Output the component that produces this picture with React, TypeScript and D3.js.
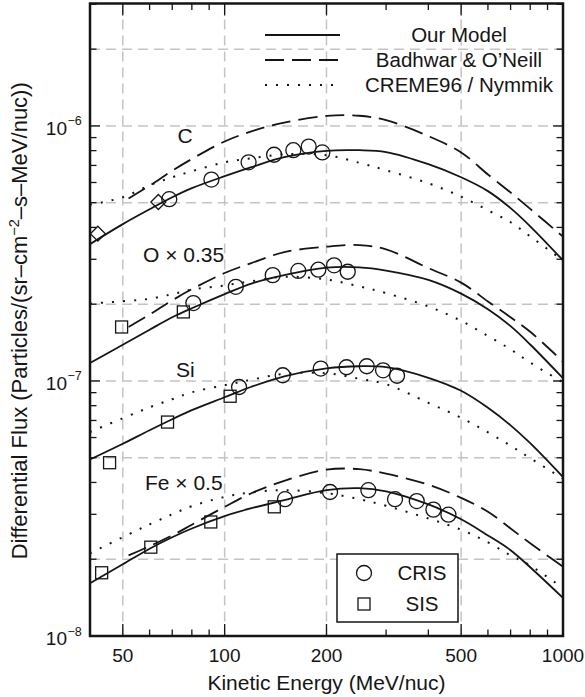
import React from "react";
import * as d3 from "d3";

// ---------- data ----------
const curveEnergy = [40, 50, 60, 70, 80, 100, 120, 150, 200, 250, 300, 400, 500, 600, 700, 800, 1000];
const badhwarEnergy = [52, 60, 70, 80, 100, 120, 150, 200, 250, 300, 400, 500, 600, 700, 800, 1000];

const cModel = [3.44e-7, 4.12e-7, 4.71e-7, 5.25e-7, 5.7e-7, 6.35e-7, 6.89e-7, 7.54e-7, 7.99e-7, 8.03e-7, 7.9e-7, 7.08e-7, 6.29e-7, 5.55e-7, 4.76e-7, 4.04e-7, 2.97e-7];
const cBadhwar = [5.19e-7, 5.83e-7, 6.67e-7, 7.42e-7, 8.69e-7, 9.52e-7, 1.031e-6, 1.094e-6, 1.096e-6, 1.053e-6, 9.12e-7, 7.87e-7, 6.45e-7, 5.48e-7, 4.73e-7, 3.68e-7];
const cCreme = [4.91e-7, 5.25e-7, 5.85e-7, 6.29e-7, 6.64e-7, 7.2e-7, 7.47e-7, 7.74e-7, 7.68e-7, 7.17e-7, 6.7e-7, 5.96e-7, 5.28e-7, 4.67e-7, 4.19e-7, 3.69e-7, 2.97e-7];

const oModel = [1.176e-7, 1.387e-7, 1.588e-7, 1.777e-7, 1.928e-7, 2.19e-7, 2.41e-7, 2.6e-7, 2.78e-7, 2.79e-7, 2.71e-7, 2.49e-7, 2.2e-7, 1.91e-7, 1.64e-7, 1.39e-7, 1.025e-7];
const oBadhwar = [1.628e-7, 1.82e-7, 2.07e-7, 2.29e-7, 2.65e-7, 2.9e-7, 3.2e-7, 3.36e-7, 3.41e-7, 3.28e-7, 2.77e-7, 2.43e-7, 2.05e-7, 1.777e-7, 1.56e-7, 1.19e-7];
const oCreme = [2.01e-7, 2.054e-7, 2.1e-7, 2.19e-7, 2.28e-7, 2.37e-7, 2.46e-7, 2.56e-7, 2.5e-7, 2.35e-7, 2.21e-7, 1.96e-7, 1.72e-7, 1.5e-7, 1.33e-7, 1.18e-7, 9.88e-8];

const siModel = [4.92e-8, 5.67e-8, 6.41e-8, 7.08e-8, 7.68e-8, 8.63e-8, 9.49e-8, 1.043e-7, 1.121e-7, 1.142e-7, 1.132e-7, 1.029e-7, 9.15e-8, 7.85e-8, 6.7e-8, 5.7e-8, 4.2e-8];
const siCreme = [6.31e-8, 7.14e-8, 7.88e-8, 8.48e-8, 9.03e-8, 9.62e-8, 1.011e-7, 1.067e-7, 1.072e-7, 1.02e-7, 9.71e-8, 8.21e-8, 7.17e-8, 6.29e-8, 5.57e-8, 4.98e-8, 4.14e-8];

const feModel = [1.61e-8, 1.91e-8, 2.2e-8, 2.44e-8, 2.64e-8, 2.95e-8, 3.17e-8, 3.41e-8, 3.73e-8, 3.8e-8, 3.69e-8, 3.28e-8, 2.87e-8, 2.48e-8, 2.17e-8, 1.86e-8, 1.41e-8];
const feBadhwar = [2.07e-8, 2.25e-8, 2.48e-8, 2.73e-8, 3.21e-8, 3.63e-8, 4.06e-8, 4.49e-8, 4.51e-8, 4.33e-8, 3.92e-8, 3.48e-8, 3.07e-8, 2.64e-8, 2.31e-8, 1.87e-8];
const feCreme = [2.11e-8, 2.44e-8, 2.74e-8, 3.0e-8, 3.23e-8, 3.51e-8, 3.66e-8, 3.73e-8, 3.63e-8, 3.44e-8, 3.24e-8, 2.89e-8, 2.61e-8, 2.33e-8, 2.07e-8, 1.89e-8, 1.54e-8];

// measured points
const cDiamondE = [42.2, 63.7];
const cDiamondF = [3.78e-7, 5.03e-7];
const cCrisE = [68.6, 91.4, 117.7, 140, 159.6, 177.2, 194.4];
const cCrisF = [5.16e-7, 6.16e-7, 7.2e-7, 7.71e-7, 8.03e-7, 8.3e-7, 7.87e-7];
const oSisE = [49.6, 75.5];
const oSisF = [1.628e-7, 1.865e-7];
const oCrisE = [80.8, 107.9, 138.7, 165.1, 189.2, 210.6, 231.1];
const oCrisF = [2.02e-7, 2.34e-7, 2.6e-7, 2.7e-7, 2.73e-7, 2.84e-7, 2.68e-7];
const siSisE = [45.7, 67.8, 103.8];
const siSisF = [4.78e-8, 6.9e-8, 8.71e-8];
const siCrisE = [110.3, 148.5, 192.3, 229.2, 263, 293.9, 323.2];
const siCrisF = [9.47e-8, 1.053e-7, 1.118e-7, 1.132e-7, 1.142e-7, 1.101e-7, 1.048e-7];
const feSisE = [43.3, 60.5, 91, 140.2];
const feSisF = [1.77e-8, 2.23e-8, 2.8e-8, 3.21e-8];
const feCrisE = [150.8, 204.9, 265.9, 318.8, 369.6, 414, 458.5];
const feCrisF = [3.44e-8, 3.67e-8, 3.73e-8, 3.44e-8, 3.38e-8, 3.13e-8, 2.99e-8];

const xTickLabels = [50, 100, 200, 500, 1000];
const yTickExponents = [-8, -7, -6];
const xGrid = [50, 100, 200, 500];
const yGrid = [2e-8, 5e-8, 1e-7, 2e-7, 5e-7, 1e-6, 2e-6];
const legendLines = ["Our Model", "Badhwar & O\u2019Neill", "CREME96 / Nymmik"];
const seriesLabels = ["C", "O \u00d7 0.35", "Si", "Fe \u00d7 0.5"];
const pointLegend = ["CRIS", "SIS"];

// ---------- layout ----------
const W = 585;
const H = 697;
const L = 90;
const R = 563;
const T = 3.5;
const B = 636;
const FONT = "'Liberation Sans', Arial, Helvetica, sans-serif";
const INK = "#151515";

const x = d3.scaleLog().domain([40, 1000]).range([L, R]);
const y = d3.scaleLog().domain([1e-8, 3.02e-6]).range([B, T]);

const line = d3
  .line<[number, number]>()
  .x((d) => x(d[0]))
  .y((d) => y(d[1]))
  .curve(d3.curveCatmullRom.alpha(0.5));

const zip = (e: number[], f: number[]) => e.map((v, i) => [v, f[i]] as [number, number]);

const DASH = "19,8";
const DOT = "2,9";

function Curve({ e, f, style }: { e: number[]; f: number[]; style: "solid" | "dash" | "dot" }) {
  return (
    <path
      d={line(zip(e, f)) || ""}
      fill="none"
      stroke={INK}
      strokeWidth={style === "dot" ? 2 : 1.8}
      strokeDasharray={style === "solid" ? undefined : style === "dash" ? DASH : DOT}
    />
  );
}

function Circles({ e, f }: { e: number[]; f: number[] }) {
  return (
    <g>
      {e.map((v, i) => (
        <circle key={i} cx={x(v)} cy={y(f[i])} r={7.5} fill="none" stroke={INK} strokeWidth={1.3} />
      ))}
    </g>
  );
}

function Squares({ e, f }: { e: number[]; f: number[] }) {
  const s = 12;
  return (
    <g>
      {e.map((v, i) => (
        <rect key={i} x={x(v) - s / 2} y={y(f[i]) - s / 2} width={s} height={s} fill="none" stroke={INK} strokeWidth={1.3} />
      ))}
    </g>
  );
}

function Diamonds({ e, f }: { e: number[]; f: number[] }) {
  const h = 7.5;
  return (
    <g>
      {e.map((v, i) => {
        const cx = x(v);
        const cy = y(f[i]);
        return (
          <path
            key={i}
            d={`M${cx},${cy - h}L${cx + h},${cy}L${cx},${cy + h}L${cx - h},${cy}Z`}
            fill="none"
            stroke={INK}
            strokeWidth={1.3}
          />
        );
      })}
    </g>
  );
}

export default function App() {
  const xMinor: number[] = [];
  [10, 100].forEach((dec) => {
    for (let k = 1; k <= 9; k++) {
      const v = k * dec;
      if (v >= 40 && v <= 1000) xMinor.push(v);
    }
  });
  xMinor.push(1000);
  const yAll: number[] = [];
  [1e-8, 1e-7, 1e-6].forEach((dec) => {
    for (let k = 1; k <= 9; k++) {
      const v = k * dec;
      if (v <= 3.02e-6) yAll.push(v);
    }
  });
  const isMajorX = (v: number) => xTickLabels.includes(v);
  const isMajorY = (v: number) => Math.abs(Math.log10(v) - Math.round(Math.log10(v))) < 1e-6;

  const labelPos: [number, number, string][] = [
    [185, 143, "middle"],
    [143, 262, "start"],
    [176, 377, "start"],
    [145, 490, "start"],
  ];

  return (
    <svg
      width={W}
      height={H}
      style={{ position: "absolute", left: 0, top: 0, background: "#fff" }}
      fontFamily={FONT}
    >
      <defs>
        <clipPath id="plot">
          <rect x={L} y={T} width={R - L} height={B - T} />
        </clipPath>
      </defs>
      <rect x={0} y={0} width={W} height={H} fill="#fff" />

      {/* grid */}
      <g stroke="#c4c4c4" strokeWidth={1.5} strokeDasharray="10,6">
        {xGrid.map((v) => (
          <line key={"gx" + v} x1={x(v)} x2={x(v)} y1={T} y2={B} />
        ))}
        {yGrid.map((v) => (
          <line key={"gy" + v} x1={L} x2={R} y1={y(v)} y2={y(v)} />
        ))}
      </g>

      {/* curves */}
      <g clipPath="url(#plot)">
        <Curve e={curveEnergy} f={cModel} style="solid" />
        <Curve e={badhwarEnergy} f={cBadhwar} style="dash" />
        <Curve e={curveEnergy} f={cCreme} style="dot" />
        <Curve e={curveEnergy} f={oModel} style="solid" />
        <Curve e={badhwarEnergy} f={oBadhwar} style="dash" />
        <Curve e={curveEnergy} f={oCreme} style="dot" />
        <Curve e={curveEnergy} f={siModel} style="solid" />
        <Curve e={curveEnergy} f={siCreme} style="dot" />
        <Curve e={curveEnergy} f={feModel} style="solid" />
        <Curve e={badhwarEnergy} f={feBadhwar} style="dash" />
        <Curve e={curveEnergy} f={feCreme} style="dot" />
      </g>

      {/* markers */}
      <Diamonds e={cDiamondE} f={cDiamondF} />
      <Circles e={cCrisE} f={cCrisF} />
      <Squares e={oSisE} f={oSisF} />
      <Circles e={oCrisE} f={oCrisF} />
      <Squares e={siSisE} f={siSisF} />
      <Circles e={siCrisE} f={siCrisF} />
      <Squares e={feSisE} f={feSisF} />
      <Circles e={feCrisE} f={feCrisF} />

      {/* series labels */}
      <g fontSize={21} fill={INK}>
        {seriesLabels.map((s, i) => (
          <text key={s} x={labelPos[i][0]} y={labelPos[i][1]} textAnchor={labelPos[i][2] as any}>
            {s}
          </text>
        ))}
      </g>

      {/* top legend */}
      <g>
        {legendLines.map((s, i) => {
          const ly = 35 + i * 25;
          return (
            <g key={s}>
              <line
                x1={265}
                x2={340}
                y1={ly}
                y2={ly}
                stroke={INK}
                strokeWidth={i === 2 ? 2 : 1.8}
                strokeDasharray={i === 0 ? undefined : i === 1 ? DASH : DOT}
              />
              <text x={459} y={ly + 7} fontSize={20.5} textAnchor="middle" fill={INK}>
                {s}
              </text>
            </g>
          );
        })}
      </g>

      {/* CRIS / SIS legend */}
      <g>
        <rect x={337} y={554} width={121} height={68} fill="#fff" stroke={INK} strokeWidth={1.5} />
        <circle cx={364} cy={573} r={7.5} fill="none" stroke={INK} strokeWidth={1.3} />
        <rect x={358} y={598} width={12} height={12} fill="none" stroke={INK} strokeWidth={1.3} />
        <text x={422} y={580} fontSize={20.5} textAnchor="middle" fill={INK}>
          {pointLegend[0]}
        </text>
        <text x={422} y={611} fontSize={20.5} textAnchor="middle" fill={INK}>
          {pointLegend[1]}
        </text>
      </g>

      {/* ticks */}
      <g stroke={INK} strokeWidth={1.3}>
        {xMinor.map((v) => {
          const len = isMajorX(v) ? 12 : 6.5;
          return (
            <g key={"xt" + v}>
              <line x1={x(v)} x2={x(v)} y1={B} y2={B - len} />
              <line x1={x(v)} x2={x(v)} y1={T} y2={T + len} />
            </g>
          );
        })}
        {yAll.map((v) => {
          const len = isMajorY(v) ? 10 : 6.5;
          return (
            <g key={"yt" + v}>
              <line x1={L} x2={L + len} y1={y(v)} y2={y(v)} />
              <line x1={R} x2={R - len} y1={y(v)} y2={y(v)} />
            </g>
          );
        })}
      </g>

      {/* frame */}
      <rect x={L} y={T} width={R - L} height={B - T} fill="none" stroke={INK} strokeWidth={2.5} />

      {/* x tick labels */}
      <g fontSize={19} fill={INK} textAnchor="middle">
        {xTickLabels.map((v) => (
          <text key={"xl" + v} x={x(v)} y={662}>
            {v}
          </text>
        ))}
      </g>

      {/* y tick labels */}
      <g fill={INK}>
        {yTickExponents.map((p) => {
          const yy = y(Math.pow(10, p));
          return (
            <g key={"yl" + p}>
              <text x={67} y={yy + 9} fontSize={19} textAnchor="end">
                10
              </text>
              <text x={67.5} y={yy - 0.5} fontSize={12.5} textAnchor="start">
                {"\u2212" + Math.abs(p)}
              </text>
            </g>
          );
        })}
      </g>

      {/* axis titles */}
      <text x={(L + R) / 2} y={690} fontSize={21} textAnchor="middle" fill={INK}>
        Kinetic Energy (MeV/nuc)
      </text>
      <text
        transform={`translate(27,${(T + B) / 2 + 1}) rotate(-90)`}
        fontSize={22}
        textAnchor="middle"
        fill={INK}
      >
        Differential Flux (Particles/(sr–cm
        <tspan fontSize={14.5} dy={-8}>
          {"\u22122"}
        </tspan>
        <tspan dy={8}>–s–MeV/nuc))</tspan>
      </text>
    </svg>
  );
}
